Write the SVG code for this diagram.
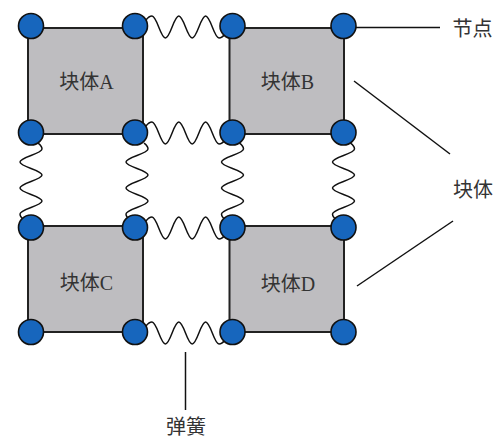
<svg xmlns="http://www.w3.org/2000/svg" xmlns:xlink="http://www.w3.org/1999/xlink" width="500" height="437" viewBox="0 0 500 437">
<style>
.blk{fill:#bebdc0;stroke:#222;stroke-width:2}
.nd{fill:#1766bd;stroke:#111;stroke-width:1.6}
.spr{fill:none;stroke:#111;stroke-width:1.5}
.ld{fill:none;stroke:#111;stroke-width:1.5}
.lbl{font-family:"Liberation Serif","Noto Sans CJK SC",serif;font-size:20px;fill:#333;text-anchor:middle}
</style>
<defs>
<path id="hs" class="spr" d="M 11 -7 Q 14 -11 17 -11 C 21.87 -11 25.53 11 30.4 11 S 38.93 -11 43.8 -11 S 52.33 11 57.2 11 S 65.73 -11 70.6 -11 S 79.13 11 84 11 Q 87 11 90 7"/>
</defs>
<rect width="500" height="437" fill="#fff"/>
<g id="blockA"><rect class="blk" x="28" y="28" width="115" height="106"/><text class="lbl" x="86.5" y="89">块体A</text></g>
<g id="blockB"><rect class="blk" x="229.5" y="28" width="114.5" height="106"/><text class="lbl" x="287.5" y="89">块体B</text></g>
<g id="blockC"><rect class="blk" x="28" y="226" width="115" height="106"/><text class="lbl" x="86.5" y="290">块体C</text></g>
<g id="blockD"><rect class="blk" x="229.5" y="226" width="114.5" height="106"/><text class="lbl" x="288" y="291">块体D</text></g>
<g id="connectors">
<use xlink:href="#hs" transform="translate(135,27)"/>
<use xlink:href="#hs" transform="translate(135,133)"/>
<use xlink:href="#hs" transform="translate(135,228)"/>
<use xlink:href="#hs" transform="translate(135,333)"/>
<use xlink:href="#hs" transform="translate(31,132.5) rotate(90) scale(0.97,1)"/>
<use xlink:href="#hs" transform="translate(137,132.5) rotate(90) scale(0.97,1)"/>
<use xlink:href="#hs" transform="translate(232.5,132.5) rotate(90) scale(0.97,1)"/>
<use xlink:href="#hs" transform="translate(343.5,132.5) rotate(90) scale(0.97,1)"/>
<line class="ld" x1="344" y1="27.5" x2="440" y2="27.5"/>
<line class="ld" x1="354" y1="81" x2="450" y2="154"/>
<line class="ld" x1="357" y1="286" x2="453" y2="221"/>
<line class="ld" x1="185.5" y1="352" x2="185.5" y2="410"/>
</g>
<g id="n1"><circle class="nd" cx="31" cy="26" r="12.5"/></g>
<g id="n2"><circle class="nd" cx="135" cy="26" r="12.5"/></g>
<g id="n3"><circle class="nd" cx="232.5" cy="26" r="12.5"/></g>
<g id="n4"><circle class="nd" cx="343.5" cy="26" r="12.5"/></g>
<g id="n5"><circle class="nd" cx="31" cy="132.5" r="12.5"/></g>
<g id="n6"><circle class="nd" cx="135" cy="132.5" r="12.5"/></g>
<g id="n7"><circle class="nd" cx="232.5" cy="132.5" r="12.5"/></g>
<g id="n8"><circle class="nd" cx="343.5" cy="132.5" r="12.5"/></g>
<g id="n9"><circle class="nd" cx="31" cy="227.5" r="12.5"/></g>
<g id="n10"><circle class="nd" cx="135" cy="227.5" r="12.5"/></g>
<g id="n11"><circle class="nd" cx="232.5" cy="227.5" r="12.5"/></g>
<g id="n12"><circle class="nd" cx="343.5" cy="227.5" r="12.5"/></g>
<g id="n13"><circle class="nd" cx="31" cy="332" r="12.5"/></g>
<g id="n14"><circle class="nd" cx="135" cy="332" r="12.5"/></g>
<g id="n15"><circle class="nd" cx="232.5" cy="332" r="12.5"/></g>
<g id="n16"><circle class="nd" cx="343.5" cy="332" r="12.5"/></g>
<g id="labels">
<text class="lbl" x="472.5" y="36">节点</text>
<text class="lbl" x="473" y="197">块体</text>
<text class="lbl" x="186" y="434">弹簧</text>
</g>
</svg>
